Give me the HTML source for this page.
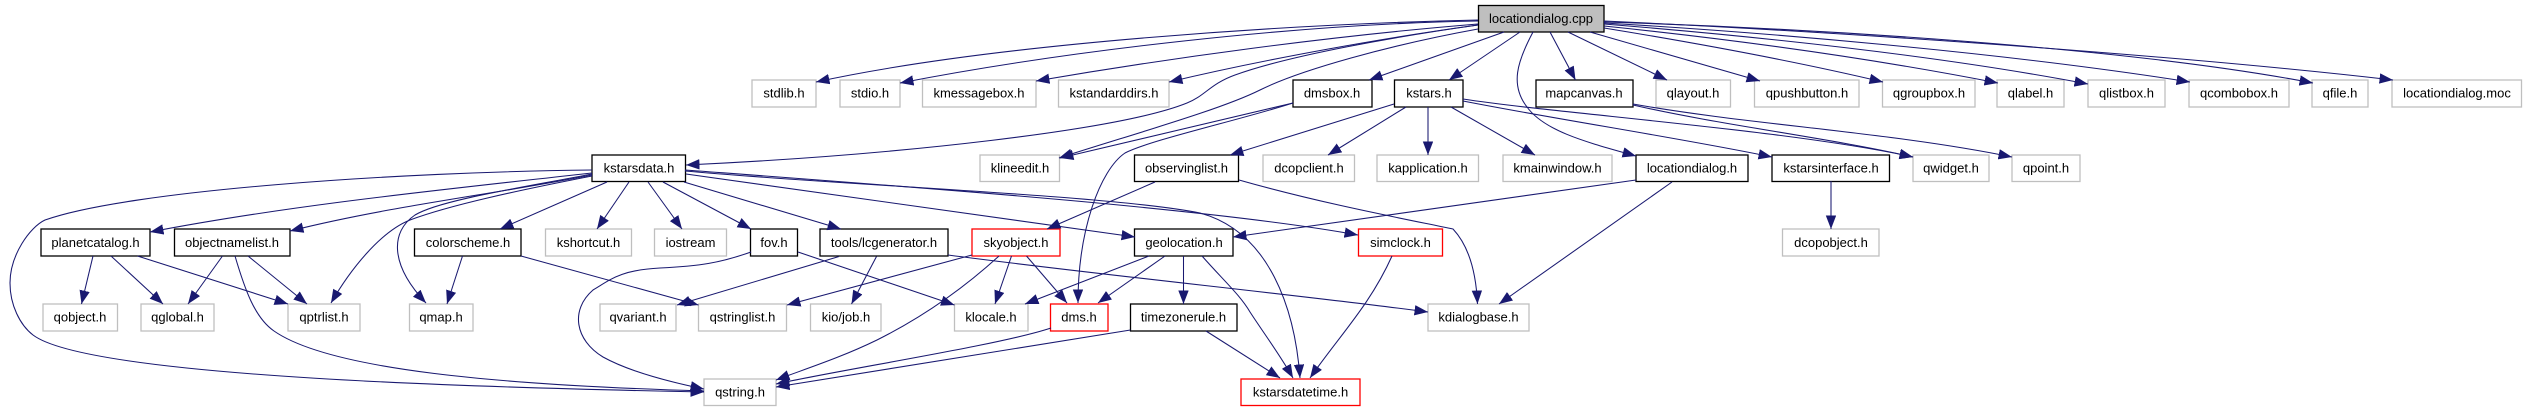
<!DOCTYPE html>
<html><head><meta charset="utf-8"><style>
html,body{margin:0;padding:0;background:#fff;width:2525px;height:411px;overflow:hidden}
svg{display:block}
text{font-family:"Liberation Sans",sans-serif;font-size:13px;fill:#000;text-anchor:middle}
.g{fill:#fff;stroke:#bfbfbf;stroke-width:1.3}
.b{fill:#fff;stroke:#000;stroke-width:1.3}
.r{fill:#fff;stroke:#ff0000;stroke-width:1.3}
.c{fill:#bfbfbf;stroke:#000;stroke-width:1.3}
path.e{fill:none;stroke:#191970;stroke-width:1.05;marker-end:url(#a)}
</style></head><body>
<svg width="2525" height="411" viewBox="0 0 2525 411" xmlns="http://www.w3.org/2000/svg">
<defs><marker id="a" markerUnits="userSpaceOnUse" markerWidth="14" markerHeight="11" refX="13.5" refY="5.2" orient="auto"><path d="M0,0 L13.5,5.2 L0,10.4 z" fill="#191970"/></marker></defs>
<rect width="2525" height="411" fill="#fff"/>
<rect class="c" x="1478.5" y="5.5" width="125.5" height="26.5"/><text x="1541" y="23">locationdialog.cpp</text>
<rect class="g" x="752" y="80" width="64" height="27"/><text x="784" y="97.5">stdlib.h</text>
<rect class="g" x="840" y="80" width="60" height="27"/><text x="870" y="97.5">stdio.h</text>
<rect class="g" x="922.5" y="80" width="113.5" height="27"/><text x="979" y="97.5">kmessagebox.h</text>
<rect class="g" x="1058.5" y="80" width="110.5" height="27"/><text x="1114" y="97.5">kstandarddirs.h</text>
<rect class="b" x="1293" y="80" width="79" height="27"/><text x="1332" y="97.5">dmsbox.h</text>
<rect class="b" x="1394.5" y="80" width="68.5" height="27"/><text x="1429" y="97.5">kstars.h</text>
<rect class="b" x="1536" y="80" width="97" height="27"/><text x="1584" y="97.5">mapcanvas.h</text>
<rect class="g" x="1656" y="80" width="74.5" height="27"/><text x="1693" y="97.5">qlayout.h</text>
<rect class="g" x="1754.5" y="80" width="104.5" height="27"/><text x="1807" y="97.5">qpushbutton.h</text>
<rect class="g" x="1882.5" y="80" width="92.5" height="27"/><text x="1929" y="97.5">qgroupbox.h</text>
<rect class="g" x="1997" y="80" width="67" height="27"/><text x="2030.5" y="97.5">qlabel.h</text>
<rect class="g" x="2088" y="80" width="77" height="27"/><text x="2126.5" y="97.5">qlistbox.h</text>
<rect class="g" x="2189" y="80" width="100" height="27"/><text x="2239" y="97.5">qcombobox.h</text>
<rect class="g" x="2312" y="80" width="56" height="27"/><text x="2340" y="97.5">qfile.h</text>
<rect class="g" x="2392" y="80" width="129.5" height="27"/><text x="2457" y="97.5">locationdialog.moc</text>
<rect class="b" x="592" y="155" width="93.5" height="26.5"/><text x="639" y="172.5">kstarsdata.h</text>
<rect class="g" x="980" y="155" width="79.5" height="26.5"/><text x="1020" y="172.5">klineedit.h</text>
<rect class="b" x="1134.5" y="155" width="104" height="26.5"/><text x="1186.5" y="172.5">observinglist.h</text>
<rect class="g" x="1263" y="155" width="91.5" height="26.5"/><text x="1309" y="172.5">dcopclient.h</text>
<rect class="g" x="1377" y="155" width="101.5" height="26.5"/><text x="1428" y="172.5">kapplication.h</text>
<rect class="g" x="1503" y="155" width="109" height="26.5"/><text x="1557.5" y="172.5">kmainwindow.h</text>
<rect class="b" x="1636" y="155" width="112" height="26.5"/><text x="1692" y="172.5">locationdialog.h</text>
<rect class="b" x="1772" y="155" width="117.5" height="26.5"/><text x="1831" y="172.5">kstarsinterface.h</text>
<rect class="g" x="1913" y="155" width="76" height="26.5"/><text x="1951" y="172.5">qwidget.h</text>
<rect class="g" x="2012" y="155" width="68" height="26.5"/><text x="2046" y="172.5">qpoint.h</text>
<rect class="b" x="41" y="229" width="109" height="27"/><text x="95.5" y="247">planetcatalog.h</text>
<rect class="b" x="174.5" y="229" width="115.5" height="27"/><text x="232" y="247">objectnamelist.h</text>
<rect class="b" x="414.5" y="229" width="106.5" height="27"/><text x="468" y="247">colorscheme.h</text>
<rect class="g" x="545.5" y="229" width="86" height="27"/><text x="588.5" y="247">kshortcut.h</text>
<rect class="g" x="654.5" y="229" width="72" height="27"/><text x="690.5" y="247">iostream</text>
<rect class="b" x="750.5" y="229" width="47" height="27"/><text x="774" y="247">fov.h</text>
<rect class="b" x="820" y="229" width="128" height="27"/><text x="884" y="247">tools/lcgenerator.h</text>
<rect class="r" x="972" y="229" width="88" height="27"/><text x="1016" y="247">skyobject.h</text>
<rect class="b" x="1134.5" y="229" width="98.5" height="27"/><text x="1184" y="247">geolocation.h</text>
<rect class="r" x="1358.5" y="229" width="84" height="27"/><text x="1400.5" y="247">simclock.h</text>
<rect class="g" x="1782.5" y="229" width="96.5" height="27"/><text x="1831" y="247">dcopobject.h</text>
<rect class="g" x="43" y="304" width="74.5" height="27"/><text x="80" y="321.5">qobject.h</text>
<rect class="g" x="141" y="304" width="73" height="27"/><text x="177.5" y="321.5">qglobal.h</text>
<rect class="g" x="288" y="304" width="72" height="27"/><text x="324" y="321.5">qptrlist.h</text>
<rect class="g" x="409.5" y="304" width="63.5" height="27"/><text x="441" y="321.5">qmap.h</text>
<rect class="g" x="600" y="304" width="76" height="27"/><text x="638" y="321.5">qvariant.h</text>
<rect class="g" x="698.5" y="304" width="88" height="27"/><text x="742.5" y="321.5">qstringlist.h</text>
<rect class="g" x="810.5" y="304" width="70.5" height="27"/><text x="846" y="321.5">kio/job.h</text>
<rect class="g" x="954.5" y="304" width="73.5" height="27"/><text x="991" y="321.5">klocale.h</text>
<rect class="r" x="1050.5" y="304" width="57.5" height="27"/><text x="1079" y="321.5">dms.h</text>
<rect class="b" x="1130.5" y="304" width="106.5" height="27"/><text x="1183.5" y="321.5">timezonerule.h</text>
<rect class="g" x="1428" y="304" width="101" height="27"/><text x="1478.5" y="321.5">kdialogbase.h</text>
<rect class="g" x="704" y="379" width="72" height="26.5"/><text x="740" y="396.5">qstring.h</text>
<rect class="r" x="1241" y="379" width="119" height="26.5"/><text x="1300.5" y="396.5">kstarsdatetime.h</text>

<path class="e" d="M1478,20 C1300,24 1000,42 816,82"/>
<path class="e" d="M1478,21 C1300,24 1070,50 900,83"/>
<path class="e" d="M1478,24 C1330,36 1170,58 1036,81"/>
<path class="e" d="M1478,25 C1390,37 1270,58 1169,82"/>
<path class="e" d="M1478,25 C1400,36 1290,55 1235,75 C1210,84 1205,96 1187,103 C1120,130 900,155 686,165"/>
<path class="e" d="M1504,32 L1369,80"/>
<path class="e" d="M1478,29 C1390,45 1300,70 1260,90 C1220,110 1130,135 1059,158"/>
<path class="e" d="M1293,103 L1060,158"/>
<path class="e" d="M1293,103 C1240,120 1150,140 1125,153 C1100,170 1078,230 1078,303"/>
<path class="e" d="M1520,32 L1449,80"/>
<path class="e" d="M1533,32 C1517,62 1510,85 1527,107 C1545,132 1590,143 1636,156"/>
<path class="e" d="M1550,32 L1575.5,80"/>
<path class="e" d="M1568,32 L1667,80"/>
<path class="e" d="M1590,32 L1760,81"/>
<path class="e" d="M1604,28 C1690,42 1790,60 1883,82"/>
<path class="e" d="M1604,26 C1720,38 1860,56 1998,83"/>
<path class="e" d="M1604,24 C1740,35 1930,54 2088,84"/>
<path class="e" d="M1604,23 C1760,32 2000,52 2190,82"/>
<path class="e" d="M1604,22 C1800,28 2120,46 2313,83"/>
<path class="e" d="M1604,21 C1800,30 2150,52 2393,80"/>
<path class="e" d="M1394,104 L1230,155"/>
<path class="e" d="M1406,107 L1328,155"/>
<path class="e" d="M1428,107 L1428,155"/>
<path class="e" d="M1451,107 L1535,155"/>
<path class="e" d="M1463,101 C1560,120 1680,138 1772,157"/>
<path class="e" d="M1463,99 C1560,114 1790,130 1913,157"/>
<path class="e" d="M1633,105 C1720,125 1830,138 1913,157"/>
<path class="e" d="M1633,104 C1750,125 1890,132 2012,157"/>
<path class="e" d="M1831,181 L1831,229"/>
<path class="e" d="M1636,180 L1233,237"/>
<path class="e" d="M1672,182 L1499,304"/>
<path class="e" d="M1155,182 L1047,229"/>
<path class="e" d="M1239,180 C1320,203 1400,218 1453,229 C1468,245 1476,270 1477.5,304"/>
<path class="e" d="M592,170 C400,172 130,190 45,220 C30,227 10,255 10,283 C10,305 20,325 33,335 C90,378 500,388 704,392"/>
<path class="e" d="M592,173 C440,190 290,205 150,232"/>
<path class="e" d="M592,175 C490,195 390,206 290,231"/>
<path class="e" d="M592,176 C520,190 450,205 410,220 C380,232 350,270 331,303"/>
<path class="e" d="M592,174 C520,188 440,200 415,215 C390,232 390,265 426,303"/>
<path class="e" d="M607,182 L500,229"/>
<path class="e" d="M629,182 L597,229"/>
<path class="e" d="M648,182 L682,229"/>
<path class="e" d="M663,182 L751,229"/>
<path class="e" d="M684,182 L841,229"/>
<path class="e" d="M686,174 L1135,237"/>
<path class="e" d="M685,170 C900,186 1210,208 1358,235"/>
<path class="e" d="M685,171 C850,186 1110,195 1200,213 C1270,232 1295,310 1300,378"/>
<path class="e" d="M948,255 C1100,275 1300,295 1428,312"/>
<path class="e" d="M93,256 L81.5,304"/>
<path class="e" d="M111,256 L163,304"/>
<path class="e" d="M137.5,256 L288,304"/>
<path class="e" d="M222.5,256 L188,304"/>
<path class="e" d="M248,256 L307,304"/>
<path class="e" d="M235,256 C245,290 255,318 274,331 C330,370 500,385 704,391"/>
<path class="e" d="M462.5,256 L447,304"/>
<path class="e" d="M521,256 L698.5,305"/>
<path class="e" d="M839,256.5 L677,305"/>
<path class="e" d="M876.5,256.5 L851.5,304"/>
<path class="e" d="M751,252 C720,263 700,266 660,268 C620,270 610,280 593,290 C570,310 575,340 603,357 C630,372 670,382 704,389"/>
<path class="e" d="M798,252 L954.5,305"/>
<path class="e" d="M972,255 L787,305"/>
<path class="e" d="M999,256 C965,287 925,316 877,340 C840,358 805,369 776,380"/>
<path class="e" d="M1011.5,256 L995,304"/>
<path class="e" d="M1026.5,256 L1067,303"/>
<path class="e" d="M1149,256 L1025,304"/>
<path class="e" d="M1165,256 L1098,303"/>
<path class="e" d="M1183.5,256 L1183.5,304"/>
<path class="e" d="M1202,256 C1225,282 1240,295 1250,312 C1265,335 1280,355 1293,378"/>
<path class="e" d="M1051,328 C1000,345 850,368 776,384"/>
<path class="e" d="M1130.5,330 L776,387"/>
<path class="e" d="M1206,331 L1280,378"/>
<path class="e" d="M1392,256 C1370,305 1340,335 1310,378"/>
</svg>
</body></html>
